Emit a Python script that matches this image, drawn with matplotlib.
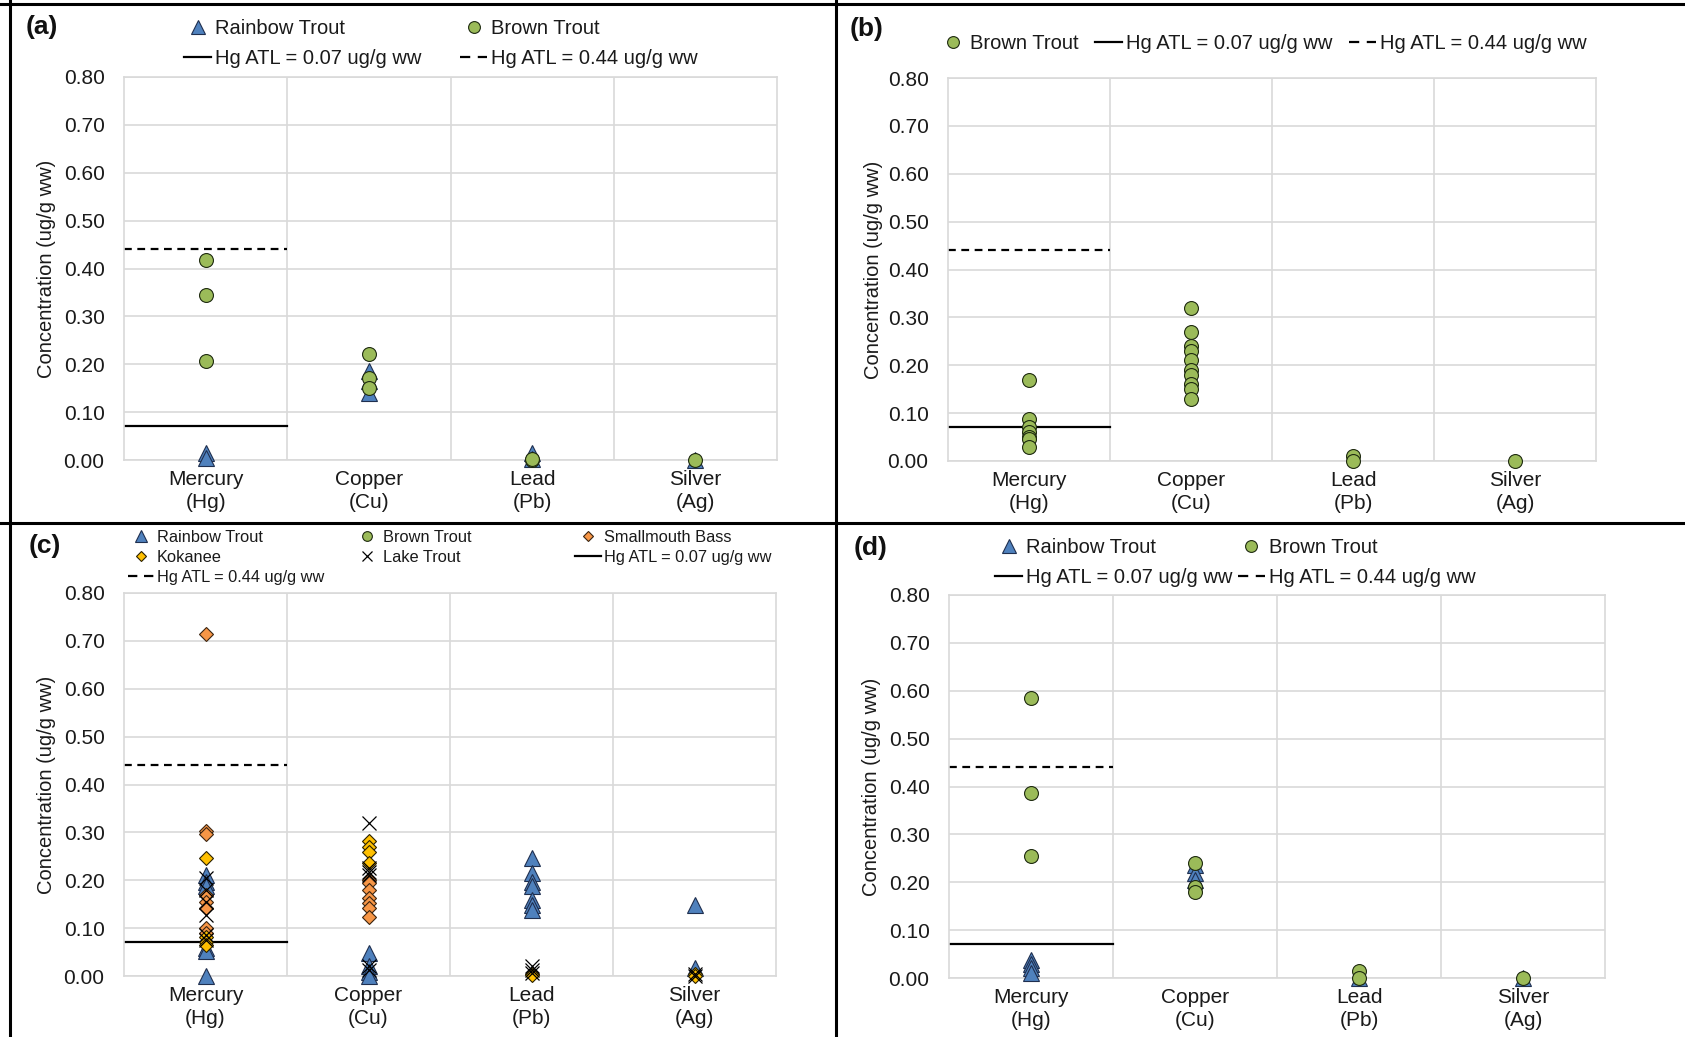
import numpy as np
import matplotlib.pyplot as plt
from matplotlib.lines import Line2D

plt.rcParams['font.family'] = ['Liberation Sans', 'DejaVu Sans']

# ---- data -------------------------------------------------------------
metals = ['Mercury\n(Hg)', 'Copper\n(Cu)', 'Lead\n(Pb)', 'Silver\n(Ag)']
y_ticks = [0.0, 0.1, 0.2, 0.3, 0.4, 0.5, 0.6, 0.7, 0.8]
hg_atl_low = 0.07
hg_atl_high = 0.44

# one list per metal: Hg, Cu, Pb, Ag
a_rainbow = [[0.015, 0.005], [0.185, 0.165, 0.14], [0.015, 0.002], [0.0]]
a_brown = [[0.417, 0.345, 0.206], [0.221, 0.171, 0.150], [0.001, 0.002], [0.001]]

b_brown = [[0.17, 0.088, 0.07, 0.06, 0.05, 0.045, 0.03],
           [0.32, 0.27, 0.24, 0.23, 0.21, 0.19, 0.18, 0.16, 0.15, 0.13],
           [0.010, 0.0], [0.001]]

c_rainbow = [[0.21, 0.197, 0.187, 0.058, 0.052, 0.0],
             [0.047, 0.02, 0.009, 0.0],
             [0.246, 0.215, 0.197, 0.187, 0.159, 0.148, 0.138],
             [0.148, 0.017]]
c_brown = [[], [], [], []]
c_smallmouth = [[0.714, 0.303, 0.296, 0.169, 0.155, 0.141, 0.10, 0.089],
                [0.20, 0.194, 0.18, 0.162, 0.152, 0.141, 0.124],
                [], []]
c_kokanee = [[0.246, 0.082, 0.072, 0.065],
             [0.281, 0.27, 0.26, 0.235],
             [0.005, 0.002], [0.004, 0.001]]
c_lake = [[0.205, 0.18, 0.155, 0.127, 0.085, 0.075],
          [0.319, 0.225, 0.218, 0.211, 0.02, 0.012],
          [0.02, 0.012, 0.006], [0.004, 0.001]]

d_rainbow = [[0.038, 0.03, 0.02, 0.01], [0.235, 0.22, 0.205], [0.0], [0.0]]
d_brown = [[0.585, 0.387, 0.254], [0.240, 0.191, 0.180], [0.015, 0.001], [0.001]]

# ---- styles -----------------------------------------------------------
styles = {
    'Rainbow Trout': dict(marker='^', ms=11.5, mfc='#4F81BD', mec='#1F2F4F', mew=0.8),
    'Brown Trout': dict(marker='o', ms=10, mfc='#9BBB59', mec='#1E2A10', mew=0.8),
    'Smallmouth Bass': dict(marker='D', ms=7.5, mfc='#F79646', mec='#3A2410', mew=0.8),
    'Kokanee': dict(marker='D', ms=7.5, mfc='#FFC000', mec='#2A2000', mew=0.8),
    'Lake Trout': dict(marker='x', ms=10, mfc='none', mec='black', mew=0.9),
}
GRID = '#D9D9D9'
TXT = '#1A1A1A'
W, H = 1685, 1037


def draw_panel(ax, series, ylab_x):
    for name, vals in series:
        st = styles[name]
        for i, v in enumerate(vals):
            if len(v):
                ax.plot([i] * len(v), v, ls='none', clip_on=False, zorder=3, **st)
    ax.plot([-0.5, 0.5], [hg_atl_low, hg_atl_low], color='black', lw=1.6, zorder=2)
    ax.plot([-0.5, 0.5], [hg_atl_high, hg_atl_high], color='black', lw=1.6,
            ls=(0, (3.5, 2.5)), zorder=2)

    ax.set_xlim(-0.5, 3.5)
    ax.set_ylim(0, 0.8)
    ax.set_yticks(y_ticks)
    ax.set_yticklabels([f'{t:.2f}' for t in y_ticks])
    ax.set_xticks(range(len(metals)))
    ax.set_xticklabels(metals, linespacing=1.3)
    ax.set_xticks([0.5, 1.5, 2.5], minor=True)
    ax.grid(True, axis='y', color=GRID, lw=1.2, zorder=0)
    ax.grid(True, axis='x', which='minor', color=GRID, lw=1.2, zorder=0)
    ax.set_axisbelow(True)
    for s in ax.spines.values():
        s.set_color(GRID)
        s.set_linewidth(1.2)
    ax.tick_params(axis='both', which='both', length=0, labelsize=15, colors=TXT)
    ax.tick_params(axis='y', pad=14)
    ax.tick_params(axis='x', pad=7)
    ax.set_ylabel('Concentration (ug/g ww)', fontsize=14.5, color=TXT)
    # label position given in figure pixels (label centre)
    bb = ax.get_position()
    ax.yaxis.set_label_coords(((ylab_x + 10) / W - bb.x0) / bb.width, 0.5)


def handle(name, scale=1.0):
    st = dict(styles[name])
    st['ms'] = st['ms'] * scale
    return Line2D([], [], ls='none', **st)


solid = Line2D([], [], color='black', lw=1.6)
dashed = Line2D([], [], color='black', lw=1.6, ls=(0, (4.6, 3.4)))
dashed_small = Line2D([], [], color='black', lw=1.6, ls=(0, (4.2, 3.0)))
lab_low = 'Hg ATL = 0.07 ug/g ww'
lab_high = 'Hg ATL = 0.44 ug/g ww'

fig = plt.figure(figsize=(16.85, 10.37), dpi=100)


def axes_px(l, t, r, b):
    return fig.add_axes([l / W, 1 - b / H, (r - l) / W, (b - t) / H])


ax_a = axes_px(124, 77, 777, 460)
ax_b = axes_px(948, 78, 1596, 461)
ax_c = axes_px(124, 593, 776, 976)
ax_d = axes_px(949, 595, 1605, 978)

draw_panel(ax_a, [('Rainbow Trout', a_rainbow), ('Brown Trout', a_brown)], 46)
draw_panel(ax_b, [('Brown Trout', b_brown)], 873)
draw_panel(ax_c, [('Rainbow Trout', c_rainbow), ('Brown Trout', c_brown),
                  ('Smallmouth Bass', c_smallmouth), ('Kokanee', c_kokanee),
                  ('Lake Trout', c_lake)], 46)
draw_panel(ax_d, [('Rainbow Trout', d_rainbow), ('Brown Trout', d_brown)], 871)

leg_kw = dict(frameon=False, borderpad=0, handletextpad=0.2, labelcolor=TXT)

fig.legend([handle('Rainbow Trout', 0.85), solid, handle('Brown Trout', 0.85), dashed],
           ['Rainbow Trout', lab_low, 'Brown Trout', lab_high],
           ncol=2, loc='upper left', bbox_to_anchor=(174 / W, 1 - 9 / H),
           fontsize=14.5, columnspacing=1.9, labelspacing=0.55,
           handlelength=1.35, **leg_kw)

fig.legend([handle('Brown Trout', 0.85), solid, dashed],
           ['Brown Trout', lab_low, lab_high],
           ncol=3, loc='upper left', bbox_to_anchor=(929 / W, 1 - 24 / H),
           fontsize=14.5, columnspacing=0.8, handlelength=1.35, **leg_kw)

# panel (c) legend: three equal-width columns
c_cols = [([handle('Rainbow Trout', 0.7), handle('Kokanee', 0.7), dashed_small],
           ['Rainbow Trout', 'Kokanee', lab_high], 120),
          ([handle('Brown Trout', 0.7), handle('Lake Trout', 0.7)],
           ['Brown Trout', 'Lake Trout'], 346),
          ([handle('Smallmouth Bass', 0.7), solid],
           ['Smallmouth Bass', lab_low], 567)]
for hs, labs, x0 in c_cols:
    fig.legend(hs, labs, loc='upper left', bbox_to_anchor=(x0 / W, 1 - 522 / H),
               fontsize=11.8, labelspacing=0.3, handlelength=1.55, **leg_kw)

fig.legend([handle('Rainbow Trout', 0.85), solid, handle('Brown Trout', 0.85), dashed],
           ['Rainbow Trout', lab_low, 'Brown Trout', lab_high],
           ncol=2, loc='upper left', bbox_to_anchor=(985 / W, 1 - 528 / H),
           fontsize=14.5, columnspacing=0.25, labelspacing=0.55,
           handlelength=1.35, **leg_kw)

# panel tags
for txt, x, y in [('(a)', 26, 27), ('(b)', 850, 29), ('(c)', 29, 546), ('(d)', 854, 548)]:
    fig.text(x / W, 1 - y / H, txt, fontsize=19, fontweight='bold',
             ha='left', va='center', color='#111111')

# panel borders
for xs, ys in [([0, 1], [1 - 4 / H] * 2),
               ([0, 1], [1 - 523 / H] * 2),
               ([10 / W] * 2, [0, 1]),
               ([836 / W] * 2, [0, 1])]:
    fig.add_artist(Line2D(xs, ys, transform=fig.transFigure, color='black', lw=2.2))

fig.savefig('out.png', dpi=100)
